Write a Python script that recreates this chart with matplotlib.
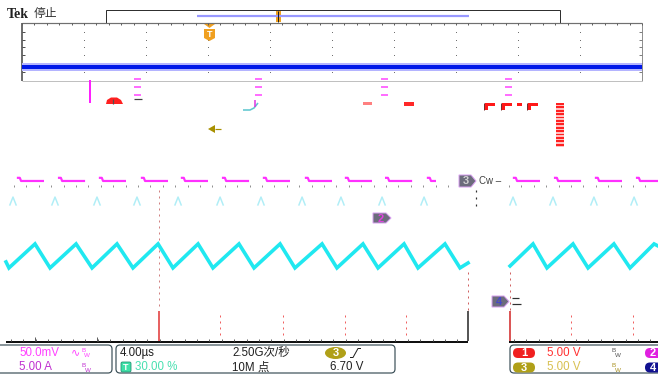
import matplotlib
matplotlib.use("Agg")
import matplotlib.pyplot as plt
from matplotlib.patches import Rectangle, FancyBboxPatch, Polygon, Ellipse

plt.rcParams['font.family'] = ['Liberation Sans', 'Noto Sans CJK SC', 'DejaVu Sans']

W, H = 658, 375
PT = 0.72  # points per pixel at dpi 100

# ---- acquisition data ----
# ch4 current ripple, vertices (time in us, current in A), two acquisitions
ch4_left_t = [-9.87, -9.68, -8.00, -7.03, -5.35, -4.32, -2.71, -1.68, -0.06, 0.90,
              2.52, 3.48, 5.16, 6.13, 7.81, 8.77, 10.52, 11.48, 13.16, 14.13,
              15.81, 16.71, 18.45, 19.42, 19.94]
ch4_left_a = [6.35, 5.40, 9.21, 5.40, 9.21, 5.40, 9.21, 5.40, 9.21, 5.40,
              9.21, 5.40, 9.21, 5.40, 9.21, 5.40, 9.21, 5.40, 9.21, 5.40,
              9.21, 5.40, 9.21, 5.40, 6.19]
ch4_right_t = [22.65, 24.13, 25.03, 26.71, 27.68, 29.35, 30.39, 31.94, 32.19]
ch4_right_a = [5.71, 9.21, 5.40, 9.21, 5.40, 9.21, 5.40, 9.21, 8.89]

# faint persistence peaks above the ripple (us)
ghost_t = [-9.42, -6.71, -4.00, -1.42, 1.23, 3.94, 6.58, 9.23, 11.74, 14.39,
           17.10, 22.84, 25.42, 28.06, 30.65]

# ch2 pulses: start time (us), width (us), level high/low (mV)
ch2_start = [-9.10, -6.45, -3.81, -1.10, 1.48, 4.13, 6.77, 9.48, 12.06, 14.65,
             17.35, 22.90, 25.55, 28.19, 30.84]
ch2_width = [1.61, 1.61, 1.61, 1.61, 1.61, 1.61, 1.61, 1.61, 1.61, 1.61,
             0.45, 1.61, 1.61, 1.61, 1.36]
ch2_high, ch2_low = 64.0, 59.0

# overview record (divisions) and ch4 level in the zoom window
ov_record = [0.0, 10.0]
ov_level = [-2.17, -2.17]

# channel settings: volts/div and marker offset (div above bottom graticule)
ch2_scale, ch2_offset = 50.0, 3.90
ch4_scale, ch4_offset = 5.0, 1.24

# readouts
ch2_readout = "50.0mV"
ch4_readout = "5.00 A"
timebase = "4.00\u00b5s"
trig_pos = "30.00 %"
sample_rate = "2.50G\u6b21/\u79d2"
rec_len = "10M \u70b9"
trig_level = "6.70 V"
ch1_readout = "5.00 V"
ch3_readout = "5.00 V"

fig = plt.figure(figsize=(W / 100, H / 100), dpi=100)
ui = fig.add_axes([0, 0, 1, 1])
ui.set_xlim(0, W)
ui.set_ylim(H, 0)
ui.axis('off')

# scope screen in time / divisions
scr = fig.add_axes([0, 0, 1, 1])
scr.set_xlim((0 - 159) * 4 / 62, (W - 159) * 4 / 62)
scr.set_ylim((341 - H) / 31.5, 341 / 31.5)
scr.axis('off')
scr.patch.set_alpha(0)


def line(x, y, c, lw=1, **kw):
    ui.plot(x, y, color=c, lw=lw * PT, solid_capstyle='butt', **kw)


def flag(x0, y0, x1, y1, txt, tc):
    yc = (y0 + y1) / 2
    ui.add_patch(Polygon([(x0, y0), (x1, y0), (x1 + 5, yc), (x1, y1), (x0, y1)],
                         closed=True, fc='#6c6c7c', ec='#d8a0f0', lw=1 * PT))
    ui.text((x0 + x1) / 2 + 1, yc + 0.5, txt, color=tc, fontsize=8, fontweight='bold',
            ha='center', va='center')


def pill(x0, x1, yc, fc, txt, tx=None):
    ui.add_patch(FancyBboxPatch((x0, yc - 5), x1 - x0, 10,
                                boxstyle="round,pad=0,rounding_size=5", fc=fc, ec='none'))
    if tx is None:
        tx = (x0 + x1) / 2
    ui.text(tx, yc + 0.5, txt, color='white', fontsize=8, fontweight='bold',
            ha='center', va='center')


def bw(x, y, c):
    ui.text(x, y - 2.5, "B", color=c, fontsize=4.5, ha='left', va='center')
    ui.text(x + 3, y + 2.5, "W", color=c, fontsize=4.5, ha='left', va='center')


# ---- header ----
ui.text(7, 14, "Tek", fontsize=10, fontweight='bold', family=['Liberation Serif'],
        color='#202020', va='center')
ui.text(34, 14, "\u505c\u6b62", fontsize=8.5, color='#303030', va='center')

ui.add_patch(Rectangle((106, 10), 454, 13, fc='white', ec='#303030', lw=1 * PT))
line([197, 469], [15.5, 15.5], '#9898ff', 2.2)
ui.add_patch(Rectangle((275.5, 11), 5, 11, fc='#f0a020', ec='none'))
line([278, 278], [11, 22], '#202020', 1)

# ---- zoom window frame and grid ----
line([22, 642], [23, 23], '#707070', 1.2)
line([22, 22], [23, 81], '#404040', 1.5)
line([642, 642], [23, 81], '#909090', 1)
line([22, 642], [80.5, 80.5], '#c0c0c0', 1)
for i in range(51):
    x = 22 + i * 12.4
    line([x, x], [23, 25], '#606060', 1)
for i in range(1, 10):
    x = 22 + i * 62
    for y in (32, 40, 47, 55, 63, 72):
        ui.add_patch(Rectangle((x - 0.5, y - 0.5), 1.2, 1.2, fc='#707070', ec='none'))
for y in (32, 40, 47, 55, 63, 72):
    line([22, 25], [y, y], '#505050', 1)
    line([639, 642], [y, y], '#808080', 1)

ov = fig.add_axes([22 / W, (H - 80) / H, 620 / W, 57 / H])
ov.set_xlim(0, 10)
ov.set_ylim(-4, 4)
ov.axis('off')
ov.patch.set_alpha(0)
ov.plot(ov_record, ov_level, color='#b4b4ff', lw=8 * PT)
ov.plot(ov_record, ov_level, color='#0018e8', lw=4 * PT)

# trigger badge
ui.add_patch(Polygon([(204, 24), (215, 24), (209.5, 28)], closed=True, fc='#f0a020', ec='none'))
ui.add_patch(Polygon([(204, 29), (215, 29), (215, 38), (209.5, 41), (204, 38)],
                     closed=True, fc='#f0a020', ec='none'))
ui.text(209.5, 34.5, "T", color='white', fontsize=6.5, fontweight='bold', ha='center', va='center')

# ---- scattered screen artefacts ----
line([90, 90], [80, 103], '#ff20ff', 2)
for x in (134, 255, 381, 505):
    for y in (79, 87, 95):
        line([x, x + 7], [y, y], '#ff40ff', 1.5)
line([134, 142], [99, 99], '#404040', 1.2)
ui.add_patch(Polygon([(106, 104), (107, 100), (111, 97.5), (117, 97.5), (121, 100), (123, 104)],
                     closed=True, fc='#ff2020', ec='none'))
line([113, 113], [99, 104], '#505050', 1.2)
line([243, 250, 254, 258], [110, 110, 108, 103], '#60c8d0', 1.6)
line([255, 255], [100, 107], '#e030e0', 1.5)
ui.add_patch(Polygon([(208, 129), (215, 125), (215, 133)], closed=True, fc='#a89000', ec='none'))
line([215, 221], [129, 129], '#a89000', 1.2)

ui.add_patch(Rectangle((363, 102), 9, 2.5, fc='#ff8080', ec='none'))
ui.add_patch(Rectangle((404, 102), 10, 3.5, fc='#ff2828', ec='none'))
for x0, x1, leg in ((485, 495, True), (502, 512, True), (517, 522, False), (528, 538, True)):
    ui.add_patch(Rectangle((x0, 103), x1 - x0, 3, fc='#ff1818', ec='none'))
    if leg:
        ui.add_patch(Rectangle((x0, 103), 3, 7, fc='#ff1818', ec='none'))
        line([x0 - 0.8, x0 - 0.8], [103, 110], '#703030', 1)
ui.add_patch(Rectangle((556, 103), 8, 44, fc='#ffc0c0', ec='none'))
y = 103
while y < 147:
    ui.add_patch(Rectangle((556, y), 8, 1.8, fc='#ff2020', ec='none'))
    y += 3.4

# ---- main graticule ----
for x0, x1 in ((6, 468), (509, 658)):
    line([x0, x1], [341.5, 341.5], '#101010', 2)
    x = x0 + 5
    while x < x1:
        line([x, x], [338.5, 340.5], '#606060', 1)
        x += 12.4
for x in (35, 97):
    line([x, x], [337, 340.5], '#606060', 1)
for x in (220, 283, 345, 406, 571, 633):
    for yy in (315, 321, 327, 333):
        line([x, x], [yy, yy + 2], '#f06060', 1)
line([159, 159], [311, 341], '#e03030', 1.5)
line([468, 468], [311, 341], '#202020', 1.5)
line([509.5, 509.5], [311, 341], '#d02020', 1.5)
for yy in range(190, 306, 6):
    line([159, 159], [yy, yy + 1.5], '#d08080', 1)
for yy in range(272, 311, 6):
    line([468, 468], [yy, yy + 1.5], '#d06060', 1)
    line([509.5, 509.5], [yy, yy + 1.5], '#d06060', 1)
for x0, x1 in ((14, 458), (509, 658)):
    x = x0
    while x < x1:
        line([x, x], [184.5, 187], '#909090', 1)
        x += 12.4
for yy in (190, 197, 204):
    line([476, 476], [yy, yy + 1.5], '#303030', 1.2)

# ---- traces ----
for t in ghost_t:
    scr.plot([t - 0.2, t, t + 0.2], [4.32, 4.57, 4.32], color='#70e0f0', alpha=0.55, lw=1.5 * PT)

for t0, w in zip(ch2_start, ch2_width):
    ts = [t0, t0 + 0.12, t0 + 0.2, t0 + w]
    vs = [ch2_high, ch2_high, ch2_low, ch2_low]
    scr.plot(ts, [v / ch2_scale + ch2_offset for v in vs], color='#ff30ff', lw=2.2 * PT)

for ts, amps in ((ch4_left_t, ch4_left_a), (ch4_right_t, ch4_right_a)):
    scr.plot(ts, [a / ch4_scale + ch4_offset for a in amps], color='#20e8f0',
             lw=3.6 * PT, solid_joinstyle='miter')

# channel markers
flag(459, 175, 471, 187, "3", '#d0d0d0')
ui.text(479, 181, "Cw \u2013", color='#404040', fontsize=7, va='center')
flag(373, 213, 386, 223, "2", '#e040e0')
flag(492, 296, 504, 307, "4", '#4848c8')
line([512, 519], [298, 298], '#303030', 1.2)
line([512, 521], [304, 304], '#303030', 1.2)

# ---- readout panels ----
ui.add_patch(FancyBboxPatch((-10, 345), 122, 28, boxstyle="round,pad=0,rounding_size=4",
                            fc='white', ec='#3c5058', lw=1.2 * PT))
ui.add_patch(FancyBboxPatch((116, 345), 279, 28, boxstyle="round,pad=0,rounding_size=4",
                            fc='white', ec='#3c5058', lw=1.2 * PT))
ui.add_patch(FancyBboxPatch((510, 345), 160, 28, boxstyle="round,pad=0,rounding_size=4",
                            fc='white', ec='#3c5058', lw=1.2 * PT))

fs = 8.3
ui.text(19, 353, ch2_readout, color='#ff40ff', fontsize=fs, va='center')
ui.text(71, 352, "\u223f", color='#ff40ff', fontsize=8, va='center', family=['DejaVu Sans'])
bw(81, 353, '#ff40ff')
ui.text(19, 367.5, ch4_readout, color='#c030d0', fontsize=fs, va='center')
bw(82, 368, '#c030d0')

ui.text(120, 353, timebase, color='#202020', fontsize=fs, va='center')
ui.add_patch(FancyBboxPatch((121, 362), 10, 10, boxstyle="round,pad=0,rounding_size=1.5",
                            fc='#40e0a8', ec='#209070', lw=0.8 * PT))
ui.text(126, 367.5, "T", color='white', fontsize=6.5, fontweight='bold', ha='center', va='center')
ui.text(135, 367.5, trig_pos, color='#48e0b0', fontsize=fs, va='center')
ui.text(232, 353, sample_rate, color='#202020', fontsize=fs, va='center')
ui.text(232, 367.5, rec_len, color='#202020', fontsize=fs, va='center')
ui.add_patch(Ellipse((335.5, 353), 21, 12, fc='#b0a018', ec='none'))
ui.text(335.5, 353.5, "3", color='white', fontsize=8, fontweight='bold', ha='center', va='center')
line([350, 353, 358, 361], [357.5, 357.5, 348.5, 348.5], '#202020', 1)
ui.text(330, 367.5, trig_level, color='#202020', fontsize=fs, va='center')

pill(513, 535, 353, '#f02020', "1")
ui.text(547, 353, ch1_readout, color='#ff3030', fontsize=fs, va='center')
bw(612, 353, '#505050')
pill(645, 668, 353, '#e020e0', "2", tx=652.5)
pill(513, 535, 367.5, '#b0a018', "3")
ui.text(547, 367.5, ch3_readout, color='#d8c050', fontsize=fs, va='center')
bw(612, 368, '#a89020')
pill(645, 668, 367.5, '#101090', "4", tx=652.5)

fig.savefig("out.png", dpi=100)
